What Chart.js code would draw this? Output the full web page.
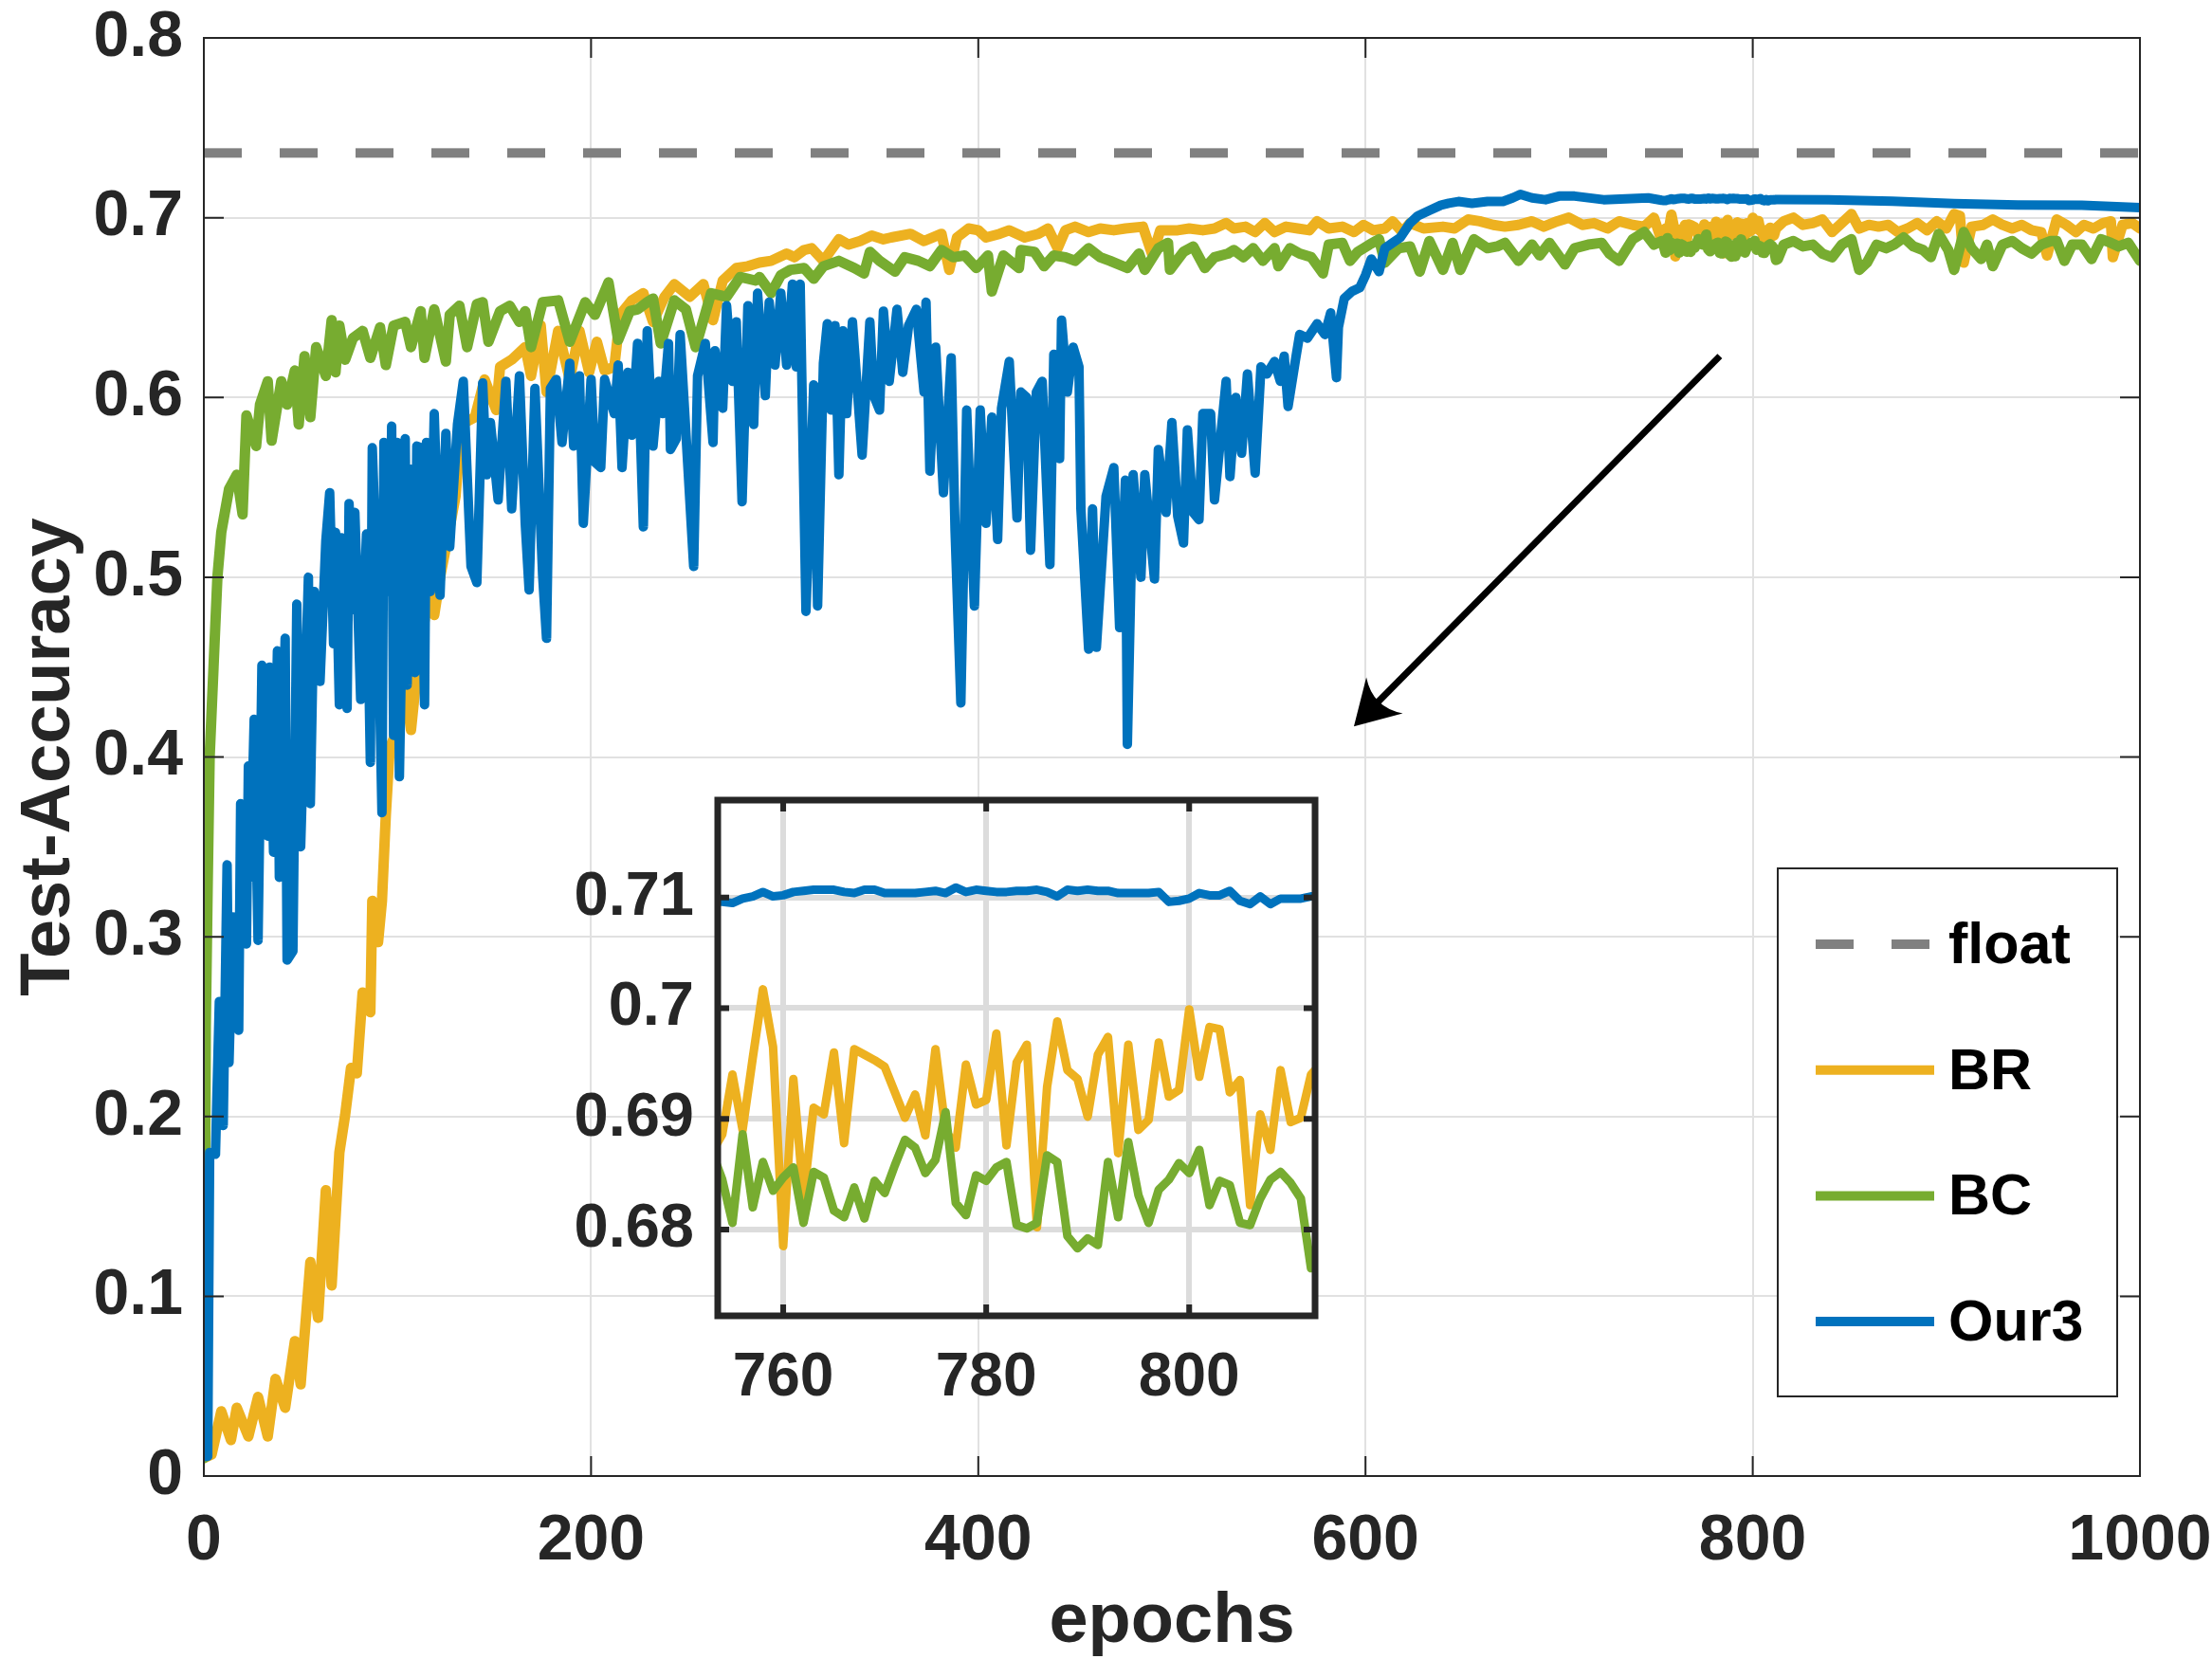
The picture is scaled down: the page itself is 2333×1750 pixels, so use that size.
<!DOCTYPE html>
<html>
<head>
<meta charset="utf-8">
<title>Test-Accuracy vs epochs</title>
<script src="https://cdn.jsdelivr.net/npm/chart.js@4.4.1/dist/chart.umd.min.js"></script>
<style>
html, body { margin: 0; padding: 0; background: #fff; }
#wrap { position: relative; width: 2333px; height: 1750px; }
#main { position: absolute; left: 0; top: 0; }
#zoom { position: absolute; left: 540px; top: 800px; }
</style>
</head>
<body>
<div id="wrap">
<canvas id="main" width="2333" height="1750"></canvas>
<canvas id="zoom" width="880" height="720"></canvas>
</div>
<script>
// ---- data ----
const xTicks = [0, 200, 400, 600, 800, 1000];
const yTicks = [0, 0.1, 0.2, 0.3, 0.4, 0.5, 0.6, 0.7, 0.8];
const floatAcc = 0.736;

const brEpochs = [0,4,9,14,17,23,28,33,37,42,
47,50,55,59,63,66,70,73,76,79,
82,86,87,90,92,94,96,100,104,107,
110,114,117,119,122,126,130,133,140,145,
151,153,159,166,169,174,177,183,189,194,
199,203,207,212,215,221,227,232,238,243,
251,258,263,268,275,281,
287,293,301,305,310,314,320,328,333,339,
345,351,355,365,372,381,385,389,395,400,
404,411,416,424,431,436,441,445,450,457,
463,470,476,485,490,494,503,509,516,522,
528,532,538,543,548,553,559,565,571,575,
581,588,594,599,604,610,614,619,623,630,
640,646,653,659,666,672,679,686,692,699,
705,712,718,725,731,738,744,749,
816,821,826,831,836,841,846,851,855,860,
865,870,875,880,885,890,895,900,904,907,
909,913,919,924,929,934,939,944,949,952,
957,962,967,971,976,981,985,986,991,996,1000];
const brAcc = [0.010,0.012,0.036,0.020,0.038,0.022,0.044,0.022,0.054,0.038,
0.075,0.051,0.119,0.088,0.159,0.106,0.180,0.201,0.227,0.224,
0.269,0.258,0.320,0.297,0.320,0.368,0.405,0.415,0.440,0.415,
0.447,0.476,0.497,0.479,0.500,0.522,0.545,0.585,0.589,0.610,
0.593,0.617,0.621,0.628,0.612,0.640,0.603,0.637,0.610,0.637,
0.614,0.631,0.615,0.617,0.646,0.654,0.658,0.642,0.656,0.663,
0.656,0.663,0.643,0.665,0.672,0.673,
0.675,0.676,0.680,0.678,0.682,0.683,0.676,0.688,0.685,0.687,
0.690,0.688,0.689,0.691,0.687,0.691,0.671,0.689,0.694,0.693,
0.689,0.691,0.693,0.689,0.691,0.694,0.683,0.693,0.695,0.692,
0.694,0.693,0.694,0.695,0.679,0.693,0.693,0.694,0.693,0.694,
0.697,0.694,0.695,0.692,0.697,0.692,0.695,0.694,0.693,0.698,
0.694,0.695,0.692,0.696,0.693,0.694,0.698,0.692,0.697,0.694,
0.695,0.694,0.699,0.698,0.696,0.695,0.696,0.698,0.695,0.698,
0.700,0.696,0.697,0.694,0.698,0.696,0.695,0.700,
0.698,0.700,0.696,0.697,0.699,0.692,0.697,0.702,0.694,0.696,
0.695,0.696,0.692,0.694,0.697,0.693,0.698,0.694,0.702,0.701,
0.675,0.695,0.696,0.699,0.696,0.694,0.696,0.693,0.692,0.679,
0.699,0.696,0.692,0.696,0.694,0.697,0.698,0.678,0.696,0.697,0.694];

const bcEpochs = [0,1,2,3,5,7,9,13,17,20,
22,27,29,33,35,40,43,47,49,52,
55,58,63,66,68,70,73,77,82,86,
91,94,98,104,107,112,114,119,125,127,
132,136,141,144,147,153,158,163,166,169,
175,183,189,197,202,209,214,220,224,229,
232,236,243,249,254,262,270,277,285,
287,293,298,303,310,315,320,328,336,341,
344,349,357,362,369,375,381,387,393,399,
405,407,413,421,422,429,434,439,445,450,
457,463,468,477,483,486,493,498,499,506,
511,517,522,529,532,537,542,547,553,555,
561,566,572,578,581,588,592,596,602,607,
610,617,623,628,633,640,645,649,656,663,
668,672,679,686,690,695,703,708,715,722,
726,731,738,744,749,
816,821,826,831,836,841,846,851,855,859,
864,869,873,878,883,888,892,896,901,904,
909,913,918,921,924,929,934,939,944,949,
954,957,961,965,970,975,980,985,989,994,1000];
const bcAcc = [0.010,0.250,0.330,0.400,0.450,0.500,0.525,0.549,0.557,0.535,
0.590,0.573,0.596,0.609,0.576,0.609,0.596,0.615,0.585,0.623,
0.589,0.628,0.612,0.643,0.614,0.640,0.621,0.633,0.637,0.622,
0.639,0.618,0.640,0.642,0.628,0.648,0.622,0.649,0.620,0.646,
0.651,0.628,0.652,0.653,0.631,0.648,0.651,0.642,0.648,0.628,
0.653,0.654,0.631,0.653,0.646,0.664,0.632,0.648,0.649,0.653,
0.655,0.630,0.654,0.649,0.628,0.658,0.656,0.667,0.665,
0.667,0.658,0.668,0.671,0.672,0.666,0.673,0.676,0.672,0.669,
0.681,0.676,0.670,0.678,0.676,0.673,0.682,0.678,0.679,0.672,
0.679,0.659,0.679,0.672,0.682,0.681,0.673,0.679,0.678,0.676,
0.683,0.678,0.676,0.672,0.680,0.671,0.683,0.686,0.671,0.681,
0.684,0.672,0.678,0.680,0.682,0.678,0.683,0.676,0.683,0.673,
0.683,0.680,0.678,0.669,0.685,0.686,0.676,0.681,0.685,0.688,
0.675,0.683,0.684,0.670,0.687,0.671,0.686,0.671,0.688,0.683,
0.684,0.686,0.676,0.685,0.679,0.686,0.674,0.683,0.685,0.686,
0.680,0.676,0.688,0.692,0.685,
0.685,0.687,0.684,0.685,0.680,0.678,0.685,0.688,0.671,0.675,
0.685,0.683,0.685,0.689,0.684,0.682,0.678,0.691,0.682,0.671,
0.692,0.683,0.677,0.685,0.673,0.685,0.687,0.683,0.680,0.685,
0.687,0.687,0.676,0.685,0.685,0.677,0.688,0.686,0.684,0.686,0.676];

const ourEpochs = [0,2,3,6,8,10,12,13,15,18,19,22,23,24,26,28,30,33,34,36,
38,39,42,43,46,48,50,54,55,57,60,63,65,67,68,70,71,74,75,77,
78,81,84,86,87,90,92,93,96,97,98,100,101,104,105,107,109,110,112,114,
115,117,119,122,125,127,131,134,138,141,144,146,148,152,156,159,163,166,168,171,
175,177,179,182,185,189,191,194,196,200,202,205,207,212,214,216,219,221,224,227,
229,232,235,237,240,241,244,246,249,253,255,259,263,264,268,270,273,275,278,281,
284,286,290,292,295,298,301,304,306,308,311,315,317,320,322,324,326,328,330,332,
335,340,344,346,349,351,354,358,361,364,368,372,373,375,378,382,386,388,391,394,
398,401,404,407,410,412,416,420,422,425,427,430,433,437,439,442,443,446,449,452,
453,457,459,461,466,470,473,476,477,480,484,486,491,493,497,500,503,506,508,511,
514,516,520,522,528,530,533,536,539,543,546,549,553,556,558,560,564,566,570,575,
579,582,585,586,589,593,597,600,603,607,610,614,618,623,627,633,639,643,648,655,
663,671,676,680,686,693,700,708,723,746,839,872,904,937,970,1000];
const ourAcc = [0.011,0.011,0.180,0.179,0.264,0.195,0.340,0.230,0.311,0.248,
0.374,0.296,0.395,0.333,0.421,0.298,0.451,0.356,0.450,0.347,
0.459,0.333,0.466,0.287,0.292,0.485,0.350,0.500,0.374,0.492,
0.442,0.520,0.547,0.463,0.525,0.429,0.522,0.427,0.541,0.482,
0.536,0.432,0.524,0.397,0.572,0.480,0.369,0.575,0.492,0.584,
0.412,0.575,0.389,0.577,0.440,0.560,0.447,0.573,0.572,0.429,
0.575,0.492,0.591,0.490,0.580,0.517,0.585,0.609,0.506,0.497,
0.608,0.557,0.586,0.543,0.609,0.538,0.612,0.530,0.493,0.605,
0.501,0.466,0.605,0.610,0.575,0.619,0.573,0.612,0.530,0.610,
0.564,0.561,0.610,0.591,0.618,0.561,0.614,0.579,0.630,0.528,
0.637,0.573,0.609,0.591,0.630,0.571,0.577,0.635,0.580,0.506,
0.612,0.630,0.575,0.626,0.594,0.651,0.609,0.642,0.542,0.651,
0.585,0.658,0.601,0.653,0.618,0.658,0.618,0.663,0.617,0.663,
0.481,0.607,0.484,0.619,0.641,0.593,0.640,0.557,0.637,0.591,
0.642,0.568,0.642,0.601,0.593,0.648,0.609,0.649,0.614,0.640,
0.649,0.603,0.653,0.559,0.628,0.547,0.622,0.526,0.430,0.593,
0.484,0.593,0.530,0.589,0.521,0.594,0.620,0.533,0.603,0.600,
0.515,0.603,0.609,0.507,0.624,0.566,0.643,0.603,0.628,0.617,
0.538,0.460,0.538,0.461,0.545,0.561,0.472,0.554,0.407,0.557,
0.500,0.557,0.499,0.571,0.536,0.586,0.534,0.519,0.582,0.536,
0.532,0.591,0.591,0.543,0.609,0.556,0.600,0.569,0.613,0.558,
0.617,0.613,0.620,0.609,0.623,0.595,0.622,0.635,0.633,0.641,
0.635,0.647,0.611,0.639,0.655,0.659,0.661,0.668,0.677,0.670,
0.683,0.686,0.689,0.697,0.701,0.704,0.707,0.708,0.709,0.708,
0.709,0.709,0.711,0.713,0.711,0.710,0.712,0.712,0.710,0.711,
0.7100,0.7092,0.7078,0.7071,0.7069,0.7056];

// zoomed window (inset), one value per epoch
const zoomEpochs = [753,754,755,756,757,758,759,760,761,762,
763,764,765,766,767,768,769,770,771,772,
773,774,775,776,777,778,779,780,781,782,
783,784,785,786,787,788,789,790,791,792,
793,794,795,796,797,798,799,800,801,802,
803,804,805,806,807,808,809,810,811,812,813];
const zoomBR = [0.6870,0.6886,0.6940,0.6890,0.6955,0.7017,0.6965,0.6785,0.6936,0.6829,
0.6910,0.6904,0.6960,0.6878,0.6963,0.6958,0.6953,0.6947,0.6924,0.6901,
0.6922,0.6885,0.6963,0.6890,0.6874,0.6949,0.6913,0.6917,0.6977,0.6876,
0.6951,0.6967,0.6802,0.6929,0.6988,0.6944,0.6936,0.6902,0.6958,0.6974,
0.6869,0.6967,0.6890,0.6899,0.6969,0.6920,0.6926,0.6999,0.6938,0.6983,
0.6981,0.6924,0.6935,0.6822,0.6904,0.6872,0.6944,0.6897,0.6901,0.6940,0.6950];
const zoomBC = [0.6870,0.6845,0.6806,0.6886,0.6820,0.6861,0.6835,0.6847,0.6856,0.6806,
0.6852,0.6847,0.6817,0.6811,0.6838,0.6810,0.6844,0.6833,0.6858,0.6881,
0.6874,0.6851,0.6863,0.6906,0.6824,0.6813,0.6849,0.6844,0.6856,0.6861,
0.6804,0.6801,0.6806,0.6867,0.6861,0.6794,0.6783,0.6792,0.6786,0.6861,
0.6811,0.6879,0.6831,0.6806,0.6836,0.6845,0.6860,0.6851,0.6872,0.6822,
0.6844,0.6840,0.6806,0.6804,0.6828,0.6845,0.6852,0.6842,0.6828,0.6765,0.6770];
const zoomOur3 = [0.7097,0.7096,0.7095,0.7099,0.7101,0.7105,0.7101,0.7102,0.7105,0.7106,
0.7107,0.7107,0.7107,0.7105,0.7104,0.7107,0.7107,0.7104,0.7104,0.7104,
0.7104,0.7105,0.7106,0.7104,0.7109,0.7105,0.7107,0.7106,0.7105,0.7105,
0.7106,0.7106,0.7107,0.7105,0.7101,0.7107,0.7106,0.7107,0.7106,0.7106,
0.7104,0.7104,0.7104,0.7104,0.7105,0.7096,0.7097,0.7099,0.7104,0.7102,
0.7102,0.7106,0.7097,0.7094,0.7101,0.7094,0.7099,0.7099,0.7099,0.7101,0.7101];
const zoomXRange = [753.55, 812.4];
const zoomYRange = [0.6722, 0.7188];
const zoomXTicks = [760, 780, 800];
const zoomYTicks = [0.68, 0.69, 0.7, 0.71];

// arrow annotation (data coords)
const arrowFrom = [783, 0.623];
const arrowTo = [594, 0.417];

// ---- drawing ----
const FONT = '"Liberation Sans", Arial, Helvetica, sans-serif';
const AXIS = '#262626';
const C_FLOAT = '#808080', C_BR = '#EDB120', C_BC = '#77AC30', C_OUR = '#0072BD';

function toPoints(xs, ys) {
  return xs.map((x, i) => ({x: x, y: ys[i]}));
}

// coarse readings outside the zoom window + per-epoch readings inside it
function withZoom(xs, ys, zx, zy) {
  const lo = zx[0], hi = zx[zx.length - 1];
  const out = [];
  xs.forEach((x, i) => { if (x < lo) out.push({x: x, y: ys[i]}); });
  toPoints(zx, zy).forEach(p => out.push(p));
  xs.forEach((x, i) => { if (x > hi) out.push({x: x, y: ys[i]}); });
  return out;
}

// fixed axis size, and no extra room for label overhang (layout.padding decides)
function fixSize(prop, size) {
  return s => {
    s[prop] = size;
    s.paddingTop = 0; s.paddingBottom = 0; s.paddingLeft = 0; s.paddingRight = 0;
  };
}

const boxPlugin = {
  id: 'box',
  afterDatasetsDraw(chart, args, o) {
    const {ctx, chartArea: a} = chart;
    const sx = chart.scales.x, sy = chart.scales.y;
    ctx.save();
    ctx.strokeStyle = AXIS;
    ctx.lineCap = 'butt';
    ctx.lineWidth = o.tickWidth;
    ctx.beginPath();
    sx.ticks.forEach(t => {
      const p = sx.getPixelForValue(t.value);
      ctx.moveTo(p, a.bottom); ctx.lineTo(p, a.bottom - o.tick);
      ctx.moveTo(p, a.top); ctx.lineTo(p, a.top + o.tick);
    });
    sy.ticks.forEach(t => {
      const p = sy.getPixelForValue(t.value);
      ctx.moveTo(a.left, p); ctx.lineTo(a.left + o.tick, p);
      ctx.moveTo(a.right, p); ctx.lineTo(a.right - o.tick, p);
    });
    ctx.stroke();
    ctx.lineWidth = o.width;
    ctx.strokeRect(a.left, a.top, a.right - a.left, a.bottom - a.top);
    ctx.restore();
  }
};

const notePlugin = {
  id: 'note',
  afterDraw(chart) {
    const {ctx, chartArea: a} = chart;
    const sx = chart.scales.x, sy = chart.scales.y;
    const x0 = sx.getPixelForValue(arrowFrom[0]), y0 = sy.getPixelForValue(arrowFrom[1]);
    const x1 = sx.getPixelForValue(arrowTo[0]), y1 = sy.getPixelForValue(arrowTo[1]);
    const len = Math.hypot(x1 - x0, y1 - y0);
    const ux = (x1 - x0) / len, uy = (y1 - y0) / len;
    const hl = 46, hw = 27;
    ctx.save();
    ctx.strokeStyle = '#000';
    ctx.fillStyle = '#000';
    ctx.lineWidth = 7;
    ctx.beginPath();
    ctx.moveTo(x0, y0);
    ctx.lineTo(x1 - ux * 34, y1 - uy * 34);
    ctx.stroke();
    ctx.beginPath();
    ctx.moveTo(x1, y1);
    ctx.lineTo(x1 - ux * hl - uy * hw, y1 - uy * hl + ux * hw);
    ctx.quadraticCurveTo(x1 - ux * 28, y1 - uy * 28, x1 - ux * hl + uy * hw, y1 - uy * hl - ux * hw);
    ctx.closePath();
    ctx.fill();

    // legend box
    const L = {x: a.right - 382, y: a.bottom - 641, w: 358, h: 557};
    ctx.fillStyle = '#fff';
    ctx.fillRect(L.x, L.y, L.w, L.h);
    ctx.lineWidth = 2;
    ctx.strokeStyle = AXIS;
    ctx.strokeRect(L.x, L.y, L.w, L.h);
    ctx.font = 'bold 61px ' + FONT;
    ctx.textBaseline = 'middle';
    chart.data.datasets.forEach((ds, i) => {
      const yy = L.y + 80 + i * 132.7;
      ctx.setLineDash(ds.borderDash || []);
      ctx.strokeStyle = ds.borderColor;
      ctx.lineWidth = 10;
      ctx.lineCap = 'butt';
      ctx.beginPath();
      ctx.moveTo(L.x + 40, yy);
      ctx.lineTo(L.x + 165, yy);
      ctx.stroke();
      ctx.setLineDash([]);
      ctx.fillStyle = '#000';
      ctx.fillText(ds.label, L.x + 180, yy + 3);
    });
    ctx.restore();
  }
};

const whiteArea = {
  id: 'whiteArea',
  beforeDraw(chart) {
    const {ctx, chartArea: a} = chart;
    ctx.save();
    ctx.fillStyle = '#fff';
    ctx.fillRect(a.left, a.top, a.right - a.left, a.bottom - a.top);
    ctx.restore();
  }
};

function boldFont(size) {
  return {family: FONT, size: size, weight: 'bold'};
}

function line(label, data, color, width, order) {
  return {
    label: label, data: data, borderColor: color, borderWidth: width,
    pointRadius: 0, tension: 0, borderJoinStyle: 'round', borderCapStyle: 'round',
    clip: 0, order: order
  };
}

const mainChart = new Chart(document.getElementById('main'), {
  type: 'line',
  data: {
    datasets: [
      Object.assign(line('float', [{x: xTicks[0], y: floatAcc}, {x: xTicks[xTicks.length - 1], y: floatAcc}], C_FLOAT, 10, 4),
        {borderDash: [40, 40], borderCapStyle: 'butt'}),
      line('BR', withZoom(brEpochs, brAcc, zoomEpochs, zoomBR), C_BR, 11, 3),
      line('BC', withZoom(bcEpochs, bcAcc, zoomEpochs, zoomBC), C_BC, 11, 2),
      line('Our3', withZoom(ourEpochs, ourAcc, zoomEpochs, zoomOur3), C_OUR, 10, 1)
    ]
  },
  options: {
    responsive: false,
    animation: false,
    events: [],
    layout: {padding: {left: 0, right: 76, top: 40, bottom: 0}},
    plugins: {
      legend: {display: false},
      tooltip: {enabled: false},
      box: {width: 2, tick: 21, tickWidth: 2}
    },
    scales: {
      x: {
        type: 'linear', min: 0, max: 1000,
        afterBuildTicks: s => { s.ticks = xTicks.map(v => ({value: v})); },
        afterFit: fixSize('height', 193),
        grid: {color: '#e1e1e1', lineWidth: 2, drawTicks: false},
        border: {display: false},
        ticks: {padding: 28, color: AXIS, font: boldFont(68), maxRotation: 0, minRotation: 0,
          autoSkip: false, callback: v => String(v)},
        title: {display: true, text: 'epochs', color: AXIS, font: boldFont(74),
          padding: {top: 0, bottom: -6}}
      },
      y: {
        type: 'linear', min: 0, max: 0.8,
        afterBuildTicks: s => { s.ticks = yTicks.map(v => ({value: v})); },
        afterFit: fixSize('width', 215),
        grid: {color: '#e1e1e1', lineWidth: 2, drawTicks: false},
        border: {display: false},
        ticks: {padding: 22, color: AXIS, font: boldFont(68), autoSkip: false, callback: v => String(v)},
        title: {display: true, text: 'Test-Accuracy', color: AXIS, font: boldFont(74),
          padding: {top: 8, bottom: 0}}
      }
    }
  },
  plugins: [boxPlugin, notePlugin]
});

const zoomChart = new Chart(document.getElementById('zoom'), {
  type: 'line',
  data: {
    datasets: [
      line('BR', toPoints(zoomEpochs, zoomBR), C_BR, 9, 3),
      line('BC', toPoints(zoomEpochs, zoomBC), C_BC, 9, 2),
      line('Our3', toPoints(zoomEpochs, zoomOur3), C_OUR, 9, 1)
    ]
  },
  options: {
    responsive: false,
    animation: false,
    events: [],
    layout: {padding: {left: 0, right: 33, top: 44, bottom: 0}},
    plugins: {
      legend: {display: false},
      tooltip: {enabled: false},
      box: {width: 7, tick: 12, tickWidth: 6}
    },
    scales: {
      x: {
        type: 'linear', min: zoomXRange[0], max: zoomXRange[1],
        afterBuildTicks: s => { s.ticks = zoomXTicks.map(v => ({value: v})); },
        afterFit: fixSize('height', 132),
        grid: {color: '#dcdcdc', lineWidth: 6, drawTicks: false},
        border: {display: false},
        ticks: {padding: 28, color: AXIS, font: boldFont(64), maxRotation: 0, minRotation: 0,
          autoSkip: false, callback: v => String(v)}
      },
      y: {
        type: 'linear', min: zoomYRange[0], max: zoomYRange[1],
        afterBuildTicks: s => { s.ticks = zoomYTicks.map(v => ({value: v})); },
        afterFit: fixSize('width', 217),
        grid: {color: '#dcdcdc', lineWidth: 6, drawTicks: false},
        border: {display: false},
        ticks: {padding: 25, color: AXIS, font: boldFont(65), autoSkip: false, callback: v => String(v)}
      }
    }
  },
  plugins: [whiteArea, boxPlugin]
});
</script>
</body>
</html>
